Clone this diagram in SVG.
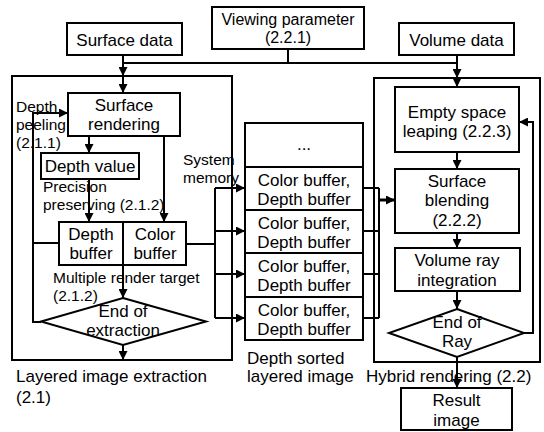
<svg xmlns="http://www.w3.org/2000/svg" width="544" height="432" viewBox="0 0 544 432">
<style>
.box{fill:#fff;stroke:#000;stroke-width:2}
.grp{fill:none;stroke:#000;stroke-width:2}
.ln{fill:none;stroke:#000;stroke-width:2}
.ar{fill:none;stroke:#000;stroke-width:2;marker-end:url(#ah)}
text{font-family:"Liberation Sans",Arial,sans-serif;font-size:17px;fill:#000}
.c{text-anchor:middle}
.s{font-size:15.5px}
.v{font-size:16px}
</style>
<defs>
<marker id="ah" markerUnits="userSpaceOnUse" markerWidth="9" markerHeight="9" refX="9" refY="4.5" orient="auto">
<path d="M0,0 L9,4.5 L0,9 z" fill="#000"/>
</marker>
</defs>
<rect width="544" height="432" fill="#fff"/>
<g id="group-extraction">
<rect class="grp" x="12" y="76" width="220" height="284"/>
<text x="16" y="382">Layered image extraction</text>
<text x="16" y="403">(2.1)</text>
</g>
<g id="group-hybrid">
<rect class="grp" x="374" y="78" width="166" height="284"/>
<text x="366" y="382">Hybrid rendering (2.2)</text>
</g>
<g id="connectors">
<path class="ln" d="M288,49 V63 M123,63 H457"/>
<path class="ar" d="M123,55 V76"/>
<path class="ar" d="M123,76 V93"/>
<path class="ar" d="M457,55 V78"/>
<path class="ar" d="M457,78 V87"/>
<path class="ar" d="M89,136 V153"/>
<path class="ar" d="M164,136 V222"/>
<path class="ar" d="M89,179 V222"/>
<path class="ar" d="M41,322 H33 V113 H68"/>
<path class="ln" d="M59,243 H33"/>
<path class="ar" d="M123,265 V298"/>
<path class="ar" d="M123,345 V360"/>
<path class="ln" d="M186,244 H215 M215,188 V318"/>
<path class="ar" d="M215,188 H245"/>
<path class="ar" d="M215,231 H245"/>
<path class="ar" d="M215,274 H245"/>
<path class="ar" d="M215,318 H245"/>
<path class="ln" d="M363,188 H379 M363,231 H379 M363,274 H379 M363,318 H379 M379,188 V318"/>
<path class="ar" d="M379,200 H395" style="stroke-width:3"/>
<path class="ar" d="M457,152 V169"/>
<path class="ar" d="M457,233 V248"/>
<path class="ar" d="M457,291 V309"/>
<path class="ar" d="M457,357 V388"/>
<path class="ar" d="M524,333 H533 V122 H519"/>
</g>
<g id="surface-data">
<rect class="box" x="67" y="23" width="115" height="32"/>
<text class="c" x="124.5" y="46">Surface data</text>
</g>
<g id="viewing-parameter">
<rect class="box" x="212" y="7" width="152" height="42"/>
<text class="c v" x="288" y="25">Viewing parameter</text>
<text class="c v" x="288" y="43">(2.2.1)</text>
</g>
<g id="volume-data">
<rect class="box" x="399" y="23" width="115" height="32"/>
<text class="c" x="456.5" y="46">Volume data</text>
</g>
<g id="surface-rendering">
<rect class="box" x="68" y="93" width="112" height="43"/>
<text class="c" x="124" y="111">Surface</text>
<text class="c" x="124" y="130">rendering</text>
</g>
<g id="depth-peeling-label">
<text class="s" x="16" y="112">Depth</text>
<text class="s" x="16" y="130">peeling</text>
<text class="s" x="16" y="148">(2.1.1)</text>
</g>
<g id="depth-value">
<rect class="box" x="41" y="153" width="98" height="26"/>
<text class="c" x="90" y="172">Depth value</text>
</g>
<g id="precision-label">
<text class="s" x="43" y="192">Precision</text>
<text class="s" x="43" y="210">preserving (2.1.2)</text>
</g>
<g id="buffers">
<rect class="box" x="59" y="222" width="127" height="43"/>
<line class="ln" x1="123" y1="222" x2="123" y2="265"/>
<text class="c" x="91" y="240">Depth</text>
<text class="c" x="91" y="259">buffer</text>
<text class="c" x="155" y="240">Color</text>
<text class="c" x="155" y="259">buffer</text>
</g>
<g id="mrt-label">
<text class="s" x="53" y="283">Multiple render target</text>
<text class="s" x="53" y="301">(2.1.2)</text>
</g>
<g id="end-of-extraction">
<polygon class="box" points="123,298 206,321.5 123,345 41,321.5"/>
<text class="c" x="123" y="317">End of</text>
<text class="c" x="123" y="336">extraction</text>
</g>
<g id="system-memory-label">
<text class="s" x="183" y="165">System</text>
<text class="s" x="183" y="183">memory</text>
</g>
<g id="layered-image">
<rect class="box" x="245" y="123" width="118" height="217"/>
<path class="ln" d="M245,167 H363 M245,210 H363 M245,253 H363 M245,297 H363"/>
<text class="c" x="304" y="150">...</text>
<text class="c" x="304" y="186">Color buffer,</text>
<text class="c" x="304" y="205">Depth buffer</text>
<text class="c" x="304" y="229">Color buffer,</text>
<text class="c" x="304" y="248">Depth buffer</text>
<text class="c" x="304" y="272">Color buffer,</text>
<text class="c" x="304" y="291">Depth buffer</text>
<text class="c" x="304" y="316">Color buffer,</text>
<text class="c" x="304" y="335">Depth buffer</text>
<text x="247" y="364">Depth sorted</text>
<text x="247" y="382">layered image</text>
</g>
<g id="empty-space-leaping">
<rect class="box" x="395" y="87" width="124" height="65"/>
<text class="c" x="457" y="118">Empty space</text>
<text class="c" x="457" y="137">leaping (2.2.3)</text>
</g>
<g id="surface-blending">
<rect class="box" x="395" y="169" width="124" height="64"/>
<text class="c" x="457" y="187">Surface</text>
<text class="c" x="457" y="206">blending</text>
<text class="c" x="457" y="226">(2.2.2)</text>
</g>
<g id="volume-ray-integration">
<rect class="box" x="395" y="248" width="125" height="43"/>
<text class="c" x="457" y="266">Volume ray</text>
<text class="c" x="457" y="286">integration</text>
</g>
<g id="end-of-ray">
<polygon class="box" points="457,309 524,333 457,357 389,333"/>
<text class="c" x="457" y="328">End of</text>
<text class="c" x="457" y="347">Ray</text>
</g>
<g id="result-image">
<rect class="box" x="401" y="388" width="111" height="42"/>
<text class="c" x="456.5" y="406">Result</text>
<text class="c" x="456.5" y="426">image</text>
</g>
</svg>
